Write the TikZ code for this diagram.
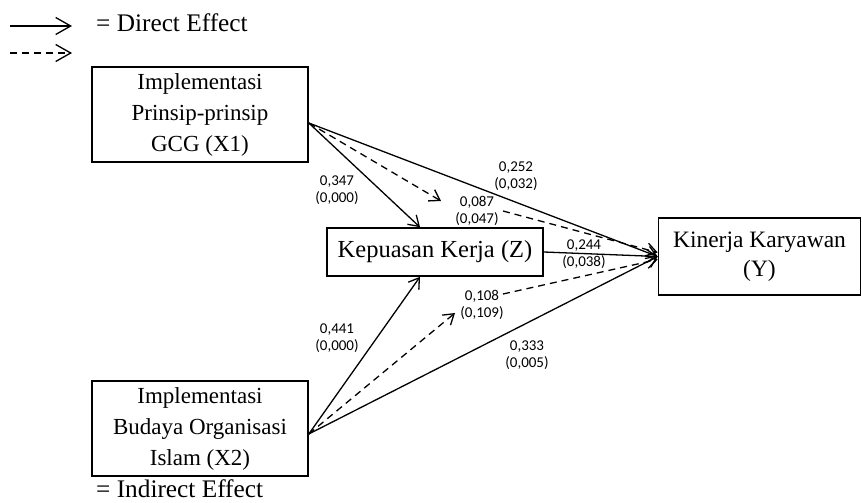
\documentclass[tikz,border=0pt]{standalone}
\usepackage{fontspec}
\setmainfont{Liberation Serif}
\newfontfamily\lblfont{Carlito}
\usetikzlibrary{arrows.meta,calc}
\begin{document}
\begin{tikzpicture}[x=1pt,y=-1pt,
  box/.style={draw,line width=1.6pt,minimum width=216pt,inner sep=0pt,align=center,
    font=\fontsize{23}{31}\selectfont},
  lbl/.style={align=center,inner sep=0pt,font=\lblfont\fontsize{15}{17}\selectfont},
  arr/.style={line width=1.3pt,-{Straight Barb[length=10pt,width=13pt,line width=1.3pt]}},
  larr/.style={line width=1.3pt,-{Straight Barb[length=15pt,width=17pt,line width=1.3pt]}},
  dsh/.style={dash pattern=on 7pt off 5pt}]
\useasboundingbox (0,0) rectangle (862,503);
% legend
\coordinate (ls1) at (10,26);
\coordinate (le1) at (72,26);
\coordinate (ls2) at (10,53);
\coordinate (le2) at (72,53);
\draw[larr] (ls1) -- (le1);
\draw[larr,dsh] (ls2) -- (le2);
\node[anchor=west,inner sep=0pt,font=\fontsize{25.3}{28}\selectfont] (tdir) at (96,23) {= Direct Effect};
\node[anchor=west,inner sep=0pt,font=\fontsize{25.3}{28}\selectfont] (tind) at (96,488.5) {= Indirect Effect};
% boxes
\node[box,minimum height=95pt] (X1) at (200,114.5) {Implementasi\\Prinsip-prinsip\\GCG (X1)};
\node[box,minimum height=48pt,font=\fontsize{24.5}{28}\selectfont] (Z) at (435,252) {Kepuasan Kerja (Z)};
\node[box,minimum width=202pt,minimum height=77pt,font=\fontsize{23.5}{29}\selectfont] (Y) at (759.5,256.5) {Kinerja Karyawan\\(Y)};
\node[box,minimum height=95pt] (X2) at (200,428.5) {Implementasi\\Budaya Organisasi\\Islam (X2)};
% helper points
\coordinate (x1p) at ([yshift=-8.5pt]X1.east);
\coordinate (x2p) at ([yshift=-5.5pt]X2.east);
\coordinate (m1) at (441,201);
\coordinate (m1b) at (503,211);
\coordinate (m2) at (455,313);
\coordinate (m2b) at (503,294);
% direct effects
\draw[arr] (x1p) -- ([xshift=-15pt]Z.north);
\draw[arr] (x2p) -- ([xshift=-15pt]Z.south);
\draw[arr] (x1p) -- (Y.west);
\draw[arr] (Z.east) -- (Y.west);
\draw[arr] (x2p) -- (Y.west);
% indirect effects
\draw[arr,dsh] (x1p) -- (m1);
\draw[arr,dsh] (m1b) -- ([yshift=4pt]Y.west);
\draw[arr,dsh] (x2p) -- (m2);
\draw[arr,dsh] (m2b) -- ([yshift=-3pt]Y.west);
% labels
\node[lbl] (l347) at (337,190.5) {0,347\\(0,000)};
\node[lbl] (l252) at (516,176.5) {0,252\\(0,032)};
\node[lbl] (l087) at (477,210.5) {0,087\\(0,047)};
\node[lbl] (l244) at (584,254.5) {0,244\\(0,038)};
\node[lbl] (l108) at (482,305) {0,108\\(0,109)};
\node[lbl] (l441) at (337,338.5) {0,441\\(0,000)};
\node[lbl] (l333) at (527,355.5) {0,333\\(0,005)};
\end{tikzpicture}
\end{document}
